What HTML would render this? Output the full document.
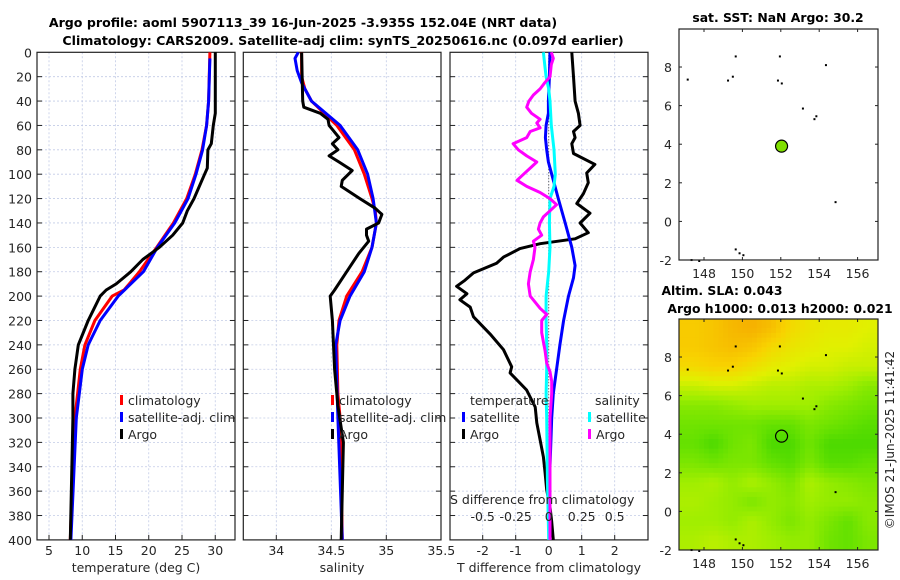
<!DOCTYPE html>
<html><head><meta charset="utf-8"><style>
html,body{margin:0;padding:0;background:#fff}
svg{display:block;font-family:"DejaVu Sans","Liberation Sans",sans-serif}
</style></head><body>
<svg id="fig" width="900" height="580" viewBox="0 0 900 580" xmlns="http://www.w3.org/2000/svg">
<defs><clipPath id="slaclip"><rect x="679" y="319" width="199" height="231"/></clipPath></defs>
<text x="303" y="27" text-anchor="middle" font-weight="bold" font-size="12.6">Argo profile: aoml 5907113_39 16-Jun-2025 -3.935S 152.04E (NRT data)</text>
<text x="343" y="45" text-anchor="middle" font-weight="bold" font-size="12.6">Climatology: CARS2009. Satellite-adj clim: synTS_20250616.nc (0.097d earlier)</text>
<text x="778" y="22" text-anchor="middle" font-weight="bold" font-size="12.4">sat. SST: NaN Argo: 30.2</text>
<text x="722" y="295" text-anchor="middle" font-weight="bold" font-size="12.4">Altim. SLA: 0.043</text>
<text x="780" y="313" text-anchor="middle" font-weight="bold" font-size="12.4">Argo h1000: 0.013 h2000: 0.021</text>
<text transform="translate(894,440) rotate(-90)" text-anchor="middle" font-size="12" fill="#262626">©IMOS 21-Jun-2025 11:41:42</text>
<g id="g"></g>
</svg>
<script>
// ---- data ----
const depthTemp = [0,40,50,60,75,80,95,100,110,120,130,140,150,160,170,180,190,195,200,210,220,240,260,280,300,400];
const argoTemp  = [30.0,30.0,30.0,29.7,29.4,28.9,28.8,28.4,27.6,26.8,25.8,25.1,23.6,21.6,19.1,17.3,15.1,13.6,12.7,11.8,10.9,9.4,8.9,8.6,8.6,8.2];
const depthClim = [0,40,60,80,100,120,140,160,180,195,200,220,240,260,300,350,400];
const climTemp  = [29.2,29.0,28.7,28.0,27.0,25.7,23.7,21.2,18.6,16.3,14.5,11.9,10.4,9.7,8.9,8.5,8.2];
const depthSat  = [5,40,60,80,100,120,140,160,180,200,220,240,260,300,400];
const satTemp   = [29.2,29.0,28.7,28.1,27.1,25.9,23.9,21.3,19.2,15.4,12.7,10.9,10.0,9.1,8.3];

const depthArgoS = [0,40,45,50,55,60,70,75,80,85,90,97,105,110,120,128,133,140,145,150,155,165,180,195,200,220,240,260,290,320,400];
const argoSal    = [34.23,34.24,34.25,34.40,34.47,34.48,34.57,34.51,34.56,34.48,34.57,34.69,34.60,34.59,34.76,34.90,34.96,34.93,34.82,34.82,34.84,34.75,34.64,34.53,34.49,34.51,34.52,34.53,34.56,34.61,34.59];
const depthClimS = [0,20,30,40,60,80,100,120,130,140,160,180,200,220,240,280,300,400];
const climSal    = [34.23,34.23,34.26,34.32,34.55,34.71,34.80,34.87,34.90,34.91,34.87,34.78,34.64,34.57,34.55,34.56,34.58,34.60];
const depthSatS  = [0,5,15,25,40,60,80,100,120,140,160,180,200,220,240,300,400];
const satSal     = [34.20,34.17,34.19,34.23,34.32,34.58,34.74,34.83,34.88,34.91,34.87,34.80,34.67,34.58,34.54,34.56,34.60];

const depthDT   = [0,20,40,50,60,65,70,75,83,92,99,107,116,124,132,140,148,153,157,161,168,173,181,187,192,198,203,209,217,231,244,258,263,277,291,304,318,332,345,359,373,385,400];
const argoDT    = [0.70,0.75,0.80,0.90,0.95,0.75,0.80,0.70,0.75,1.40,1.15,1.20,1.05,0.85,1.25,0.95,1.20,0.80,-0.26,-0.87,-1.37,-1.58,-2.28,-2.54,-2.79,-2.48,-2.69,-2.38,-2.28,-1.78,-1.37,-1.12,-1.17,-0.67,-0.41,-0.36,-0.26,-0.16,-0.11,-0.06,0.04,0.09,0.14];
const depthSDT  = [0,20,40,50,60,70,80,90,100,110,120,140,160,175,185,200,220,240,260,280,300,340,400];
const satDT     = [0.04,0.02,-0.01,-0.01,-0.08,-0.10,-0.06,-0.01,0.09,0.19,0.29,0.50,0.70,0.80,0.75,0.60,0.45,0.34,0.24,0.14,0.09,0.04,0.04];
const depthDS   = [0,10,20,30,40,60,80,100,110,120,140,160,180,200,220,240,260,280,300,350,400];
const satDS     = [-0.04,-0.03,-0.02,0.00,0.01,0.02,0.04,0.05,0.04,0.01,0.005,0.01,0.00,-0.02,-0.02,-0.015,-0.015,-0.02,-0.015,-0.01,0.00];
const depthADS  = [0,5,10,20,25,30,35,40,45,50,55,58,62,65,70,75,80,85,90,95,100,105,110,115,120,125,130,135,140,145,150,155,160,170,180,190,200,210,215,220,230,245,255,262,270,280,300,350,400];
const argoDS    = [0.02,0.035,0.02,0.01,-0.03,-0.065,-0.116,-0.15,-0.167,-0.13,-0.065,-0.09,-0.065,-0.14,-0.167,-0.27,-0.23,-0.167,-0.09,-0.14,-0.19,-0.24,-0.167,-0.065,0.01,0.06,0.01,-0.04,-0.065,-0.078,-0.053,-0.116,-0.104,-0.116,-0.14,-0.154,-0.14,-0.065,-0.015,-0.053,-0.053,-0.027,-0.015,0.01,0.023,0.023,0.01,0.01,0.01];

const slaLats = [9.5,8.5,7.5,6.5,5.5,4.5,3.5,2.5,1.5,0.5,-0.5,-1.5];
const slaLons = [147.5,148.5,149.5,150.5,151.5,152.5,153.5,154.5,155.5,156.5];
const slaGrid = [
 [.21,.22,.24,.25,.23,.19,.17,.16,.16,.15],
 [.21,.22,.23,.22,.19,.17,.16,.15,.15,.14],
 [.19,.20,.20,.18,.16,.15,.14,.14,.13,.13],
 [.13,.14,.14,.13,.12,.12,.11,.11,.10,.08],
 [.08,.08,.09,.10,.10,.10,.10,.08,.07,.06],
 [.06,.06,.06,.06,.05,.05,.07,.06,.05,.04],
 [.05,.03,.06,.07,.03,.03,.06,.03,.03,.03],
 [.07,.06,.07,.07,.05,.04,.07,.04,.04,.05],
 [.10,.11,.09,.11,.09,.07,.11,.09,.08,.07],
 [.11,.10,.09,.07,.09,.08,.10,.09,.09,.08],
 [.10,.10,.09,.11,.09,.07,.09,.07,.05,.08],
 [.11,.12,.11,.11,.10,.09,.09,.06,.05,.07]];
const argoLon = 152.04, argoLat = 3.9;

// ---- drawing ----
const NS="http://www.w3.org/2000/svg";
const G=document.getElementById('g');
function el(tag,attrs,parent){const e=document.createElementNS(NS,tag);for(const k in attrs)e.setAttribute(k,attrs[k]);(parent||G).appendChild(e);return e;}
const Y0=52.3, PXM=1.219;
const yD=d=>Y0+d*PXM;
const YB=yD(400);
const xT=t=>49+(t-5)*6.65;
const xS=s=>276.3+(s-34)*110;
const xDT=t=>548.7+t*33;
const xDS=s=>548.7+s*132;

function panel(x0,x1,name,vgrid,xf){
  const g=el('g',{});
  
  
  for(let d=20;d<400;d+=20){const l=el('line',{x1:x0,x2:x1,y1:yD(d),y2:yD(d),stroke:'#c2cbe6','stroke-width':0.8,'stroke-dasharray':'2,2'},g);
    el('line',{x1:x0,x2:x0+5,y1:yD(d),y2:yD(d),stroke:'#222'},g);el('line',{x1:x1-5,x2:x1,y1:yD(d),y2:yD(d),stroke:'#222'},g);}
  vgrid.forEach(v=>{const l=el('line',{x1:xf(v),x2:xf(v),y1:Y0,y2:YB,stroke:'#c2cbe6','stroke-width':0.8,'stroke-dasharray':'2,2'},g);
    el('line',{x1:xf(v),x2:xf(v),y1:YB-5,y2:YB,stroke:'#222'},g);});
  const r=el('rect',{x:x0,y:Y0,width:x1-x0,height:YB-Y0,fill:'none',stroke:'#222','stroke-width':1.2},g);
  
  return g;
}
function line(xs,ds,xf,color,name,w){
  const p=xs.map((v,i)=>xf(v).toFixed(1)+','+yD(ds[i]).toFixed(1)).join(' ');
  const e=el('polyline',{points:p,fill:'none',stroke:color,'stroke-width':w||3,'stroke-linejoin':'round'});
  
  
}
function txt(x,y,s,name,opt){const t=el('text',Object.assign({x:x,y:y,'font-size':12.5,fill:'#262626'},opt||{}));t.textContent=s;return t;}
function legend(x,y,color,label){
  const m=el('rect',{x:x,y:y-10,width:3,height:10,fill:color});
  
  txt(x+8,y,label,'legend-entry');
}

// panel 1
panel(37,235,'temperature-panel',[5,10,15,20,25,30],xT);
for(let d=0;d<=400;d+=20) txt(32,yD(d)+5,String(d),'y-tick-label',{'text-anchor':'end'});
[5,10,15,20,25,30].forEach(v=>txt(xT(v),555,String(v),'x-tick-label',{'text-anchor':'middle'}));
txt(136,572,'temperature (deg C)','x-axis-title',{'text-anchor':'middle'});
line(climTemp,depthClim,xT,'#ff0000','climatology-temp-line');
line(satTemp,depthSat,xT,'#0000ff','satellite-temp-line');
line(argoTemp,depthTemp,xT,'#000000','argo-temp-line');
legend(120,405,'#ff0000','climatology');legend(120,422,'#0000ff','satellite-adj. clim');legend(120,439,'#000','Argo');

// panel 2
panel(243.3,441,'salinity-panel',[34,34.5,35],xS);
[34,34.5,35,35.5].forEach(v=>txt(xS(v),555,String(v),'x-tick-label',{'text-anchor':'middle'}));
txt(342,572,'salinity','x-axis-title',{'text-anchor':'middle'});
line(climSal,depthClimS,xS,'#ff0000','climatology-sal-line');
line(satSal,depthSatS,xS,'#0000ff','satellite-sal-line');
line(argoSal,depthArgoS,xS,'#000000','argo-sal-line');
legend(331,405,'#ff0000','climatology');legend(331,422,'#0000ff','satellite-adj. clim');legend(331,439,'#000','Argo');

// panel 3
panel(450,648,'difference-panel',[-2,-1,0,1,2],xDT);
el('line',{x1:xDT(0),x2:xDT(0),y1:Y0,y2:YB,stroke:'#444','stroke-width':1,'stroke-dasharray':'1,2'});
line(argoDT,depthDT,xDT,'#000000','argo-temp-diff-line');
line(satDT,depthSDT,xDT,'#0000ff','satellite-temp-diff-line');
line(satDS,depthDS,xDS,'#00ffff','satellite-sal-diff-line');
line(argoDS,depthADS,xDS,'#ff00ff','argo-sal-diff-line');
txt(470,405,'temperature','legend-title');txt(595,405,'salinity','legend-title');
legend(462,422,'#0000ff','satellite');legend(462,439,'#000','Argo');
legend(588,422,'#00ffff','satellite');legend(588,439,'#ff00ff','Argo');
txt(450,504,'S difference from climatology','s-axis-title');
[-0.5,-0.25,0,0.25,0.5].forEach(v=>txt(xDS(v),521,String(v),'s-tick-label',{'text-anchor':'middle'}));
[-2,-1,0,1,2].forEach(v=>txt(xDT(v),555,String(v),'x-tick-label',{'text-anchor':'middle'}));
txt(549,572,'T difference from climatology','x-axis-title',{'text-anchor':'middle'});

// maps
const MX0=679,MX1=878,PXD=19.2;
const xL=lon=>704+(lon-148)*PXD;
function colorOf(v){
  const stops=[[0,[40,205,0]],[0.05,[100,225,0]],[0.1,[160,238,0]],[0.15,[225,240,0]],[0.2,[248,210,0]],[0.26,[245,170,0]]];
  for(let i=0;i<stops.length-1;i++){const a=stops[i],b=stops[i+1];if(v<=b[0]){const f=Math.max(0,(v-a[0])/(b[0]-a[0]));return 'rgb('+a[1].map((c,j)=>Math.round(c+(b[1][j]-c)*f)).join(',')+')';}}
  return 'rgb(245,170,0)';
}
function sampleSLA(lon,lat){
  let fi=(slaLats[0]-lat), fj=(lon-slaLons[0]);
  fi=Math.min(Math.max(fi,0),slaLats.length-1); fj=Math.min(Math.max(fj,0),slaLons.length-1);
  const i0=Math.min(Math.floor(fi),slaLats.length-2), j0=Math.min(Math.floor(fj),slaLons.length-2);
  const a=fi-i0,b=fj-j0;
  return slaGrid[i0][j0]*(1-a)*(1-b)+slaGrid[i0+1][j0]*a*(1-b)+slaGrid[i0][j0+1]*(1-a)*b+slaGrid[i0+1][j0+1]*a*b;
}
const specks=[[149.6,8.6],[151.9,8.6],[154.3,8.15],[147.1,7.4],[149.2,7.35],[149.45,7.55],[151.8,7.35],[152.0,7.2],[153.1,5.9],[153.7,5.35],[153.8,5.5],[154.8,1.05],[149.6,-1.4],[149.8,-1.6],[150.0,-1.7],[147.3,-1.95],[147.7,-2.0]];
function drawMap(yTop,yBot,name,filled){
  const yLat=lat=>yBot-(lat+2)*((yBot-yTop)/11.97);
  const g=el('g',{});
  if(!filled){
    const cg=el('g',{'clip-path':'url(#slaclip)'},g);
    
    const step=0.25;
    for(let lat=10.25;lat>-2.1;lat-=step){
      for(let lon=146.5;lon<157.3;lon+=step){
        const c=el('rect',{x:xL(lon).toFixed(1),y:yLat(lat).toFixed(1),width:(PXD*step+0.6).toFixed(1),height:(PXD*step+0.6).toFixed(1),fill:colorOf(sampleSLA(lon+step/2,lat-step/2))},cg);
        
      }
    }
  }
  specks.forEach(s=>{const e=el('rect',{x:xL(s[0]),y:yLat(s[1]),width:2,height:2,fill:'#000'});});
  [-2,0,2,4,6,8].forEach(v=>{txt(672,yLat(v)+5,String(v),'map-y-tick-label',{'text-anchor':'end'});el('line',{x1:MX1-3,x2:MX1,y1:yLat(v),y2:yLat(v),stroke:'#222'});el('line',{x1:MX0,x2:MX0+3,y1:yLat(v),y2:yLat(v),stroke:'#222'});});
  [148,150,152,154,156].forEach(v=>{txt(xL(v),yBot+18,String(v),'map-x-tick-label',{'text-anchor':'middle'});el('line',{x1:xL(v),x2:xL(v),y1:yBot-3,y2:yBot,stroke:'#222'});el('line',{x1:xL(v),x2:xL(v),y1:yTop,y2:yTop+3,stroke:'#222'});});
  const c=el('circle',{cx:xL(argoLon),cy:yLat(argoLat),r:6,fill:filled?'#80e000':'none',stroke:'#000','stroke-width':1.2});
  
  const f=el('rect',{x:MX0,y:yTop,width:MX1-MX0,height:yBot-yTop,fill:'none',stroke:'#222','stroke-width':1.2});
  
}
drawMap(29,260,'sst-map',true);
drawMap(319,550,'sla-map',false);
</script>
</body></html>
